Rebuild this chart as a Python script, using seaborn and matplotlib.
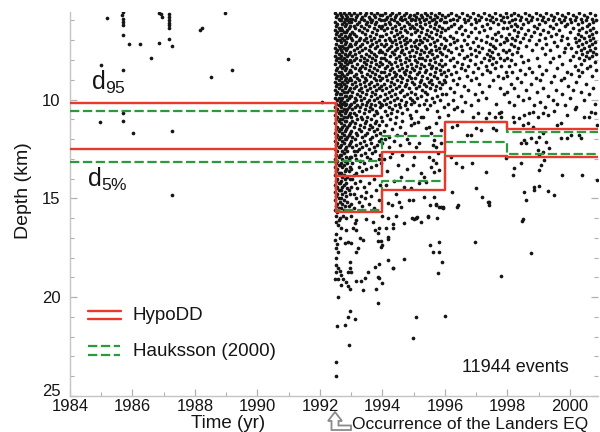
import matplotlib
matplotlib.use("Agg")
import matplotlib.pyplot as plt
import pandas as pd
import seaborn as sns
from matplotlib.lines import Line2D
from matplotlib.patches import Polygon
from matplotlib.transforms import IdentityTransform, ScaledTranslation
from matplotlib.ticker import MultipleLocator

# ---------------- data ----------------
x_ticks = [1984, 1986, 1988, 1990, 1992, 1994, 1996, 1998, 2000]
y_ticks = [10, 15, 20, 25]

# step boundaries (years) and depth percentiles (km)
step_edges = [1984, 1992.5, 1994, 1996, 1998, 2001]
hypodd_d95 = [10.15, 13.85, 12.65, 11.13, 11.50]
hypodd_d5 = [12.48, 15.70, 14.60, 12.87, 12.90]
hauk_d95 = [10.57, 13.12, 11.85, 11.15, 11.66]
hauk_d5 = [13.18, 15.60, 14.10, 12.17, 12.77]

# pre-Landers events (time, depth)
pre_events = [(1984.97, 11.12), (1984.98, 8.25), (1985.17, 5.89), (1985.67, 5.73), (1985.70, 5.59),
              (1985.70, 5.93), (1985.70, 6.06), (1985.70, 6.23), (1985.70, 6.74), (1985.70, 8.52),
              (1985.70, 10.67), (1985.70, 11.09), (1985.88, 7.18), (1986.01, 11.71), (1986.24, 7.18),
              (1986.59, 7.89), (1986.84, 5.62), (1986.90, 5.69), (1986.93, 5.84), (1986.84, 7.14),
              (1987.16, 5.67), (1987.16, 5.82), (1987.16, 5.97), (1987.16, 6.13), (1987.16, 6.23),
              (1987.16, 6.38), (1987.18, 6.94), (1987.26, 7.31), (1987.27, 11.59), (1987.27, 14.85),
              (1988.15, 6.48), (1988.23, 6.37), (1988.50, 8.86), (1988.95, 5.62), (1989.19, 8.51),
              (1990.97, 7.95), (1992.05, 10.11)]

# dense post-Landers columns: time -> depths
ev_landers = {
    1992.48: [5.6, 6.1, 6.5, 6.9, 7.4, 7.8, 8.2, 8.7, 9.1, 9.5, 9.9, 10.4, 10.8, 11.2, 11.7, 12.1, 12.5, 13.0, 13.4, 13.8, 14.3, 14.7, 15.1, 15.6],
    1992.52: [5.8, 6.3, 6.7, 7.2, 7.6, 8.0, 8.5, 8.9, 9.3, 9.7, 10.2, 10.6, 11.0, 11.5, 11.9, 12.3, 12.8, 13.2, 13.6, 14.1, 14.5, 14.9, 15.4, 15.9],
    1992.56: [5.7, 6.2, 6.6, 7.0, 7.5, 7.9, 8.4, 8.8, 9.2, 9.6, 10.0, 10.5, 10.9, 11.4, 11.8, 12.2, 12.6, 13.1, 13.5, 14.0, 14.4, 14.8, 15.3, 15.7],
    1992.60: [5.9, 6.4, 6.8, 7.3, 7.7, 8.1, 8.6, 9.0, 9.4, 9.9, 10.3, 10.7, 11.1, 11.6, 12.0, 12.4, 12.9, 13.3, 13.7, 14.2, 14.6, 15.0, 15.5],
    1992.64: [5.6, 6.0, 6.5, 7.0, 7.4, 7.9, 8.3, 8.8, 9.2, 9.7, 10.1, 10.6, 11.0, 11.5, 11.9, 12.4, 12.8, 13.3, 13.7, 14.2, 14.6, 15.2],
}
ev_1992 = {
    1992.68: [5.7, 6.0, 6.4, 6.7, 7.1, 7.5, 7.8, 8.2, 8.6, 8.9, 9.3, 9.7, 10.0, 10.4, 10.8, 11.2, 11.5, 11.9, 12.3, 12.8, 13.2, 13.7, 14.1, 14.6, 15.0, 15.5],
    1992.72: [5.8, 6.2, 6.5, 6.9, 7.3, 7.6, 8.0, 8.4, 8.7, 9.1, 9.5, 9.9, 10.2, 10.6, 11.0, 11.4, 11.7, 12.1, 12.6, 13.0, 13.4, 13.9, 14.4, 14.8, 15.3],
    1992.76: [5.6, 6.1, 6.6, 7.0, 7.4, 7.9, 8.3, 8.8, 9.2, 9.6, 10.1, 10.5, 10.9, 11.3, 11.8, 12.2, 12.7, 13.3, 13.8, 14.3, 15.1, 15.6],
    1992.80: [5.9, 6.3, 6.8, 7.2, 7.7, 8.1, 8.5, 9.0, 9.4, 9.8, 10.3, 10.7, 11.1, 11.6, 12.0, 12.5, 13.1, 13.6, 14.0, 14.7, 15.4],
    1992.84: [5.7, 6.2, 6.6, 7.1, 7.5, 8.0, 8.4, 8.9, 9.3, 9.8, 10.2, 10.6, 11.1, 11.5, 12.0, 12.4, 12.9, 13.5, 14.2, 14.9],
    1992.88: [5.8, 6.0, 6.5, 6.9, 7.4, 7.8, 8.2, 8.7, 9.1, 9.6, 10.0, 10.5, 10.9, 11.4, 11.9, 12.6, 13.2, 13.9, 14.5, 15.2],
    1992.92: [5.6, 6.1, 6.4, 6.8, 7.3, 7.7, 8.1, 8.6, 9.0, 9.5, 9.9, 10.4, 10.8, 11.3, 11.8, 12.3, 13.0, 13.6, 14.6, 15.4],
    1992.96: [5.9, 6.3, 6.7, 7.2, 7.6, 8.0, 8.5, 8.9, 9.4, 9.8, 10.3, 10.7, 11.2, 11.7, 12.2, 12.9, 13.4, 14.0, 14.8],
}
ev_1993 = {
    1993.00: [5.7, 6.1, 6.9, 7.3, 8.1, 8.6, 9.0, 9.8, 10.2, 10.9, 11.6, 12.1, 12.9, 13.5, 14.4, 15.3],
    1993.04: [5.9, 6.6, 7.0, 7.8, 8.3, 9.2, 9.6, 10.5, 11.1, 11.9, 12.4, 13.2, 14.0],
    1993.08: [5.6, 6.3, 6.7, 7.5, 8.0, 8.8, 9.4, 10.1, 10.7, 11.4, 12.6, 13.8, 14.8, 15.5],
    1993.12: [6.0, 6.4, 7.2, 7.7, 8.4, 9.1, 9.9, 10.4, 11.2, 12.0, 12.8, 14.2],
    1993.16: [5.8, 6.8, 7.1, 7.9, 8.7, 9.3, 10.0, 10.8, 11.7, 12.3, 13.0, 13.7, 15.0],
    1993.20: [5.7, 6.2, 7.4, 8.2, 8.9, 9.7, 10.3, 11.0, 11.8, 12.6, 14.5],
    1993.24: [6.1, 6.5, 7.0, 7.6, 8.5, 9.0, 9.5, 10.6, 11.5, 12.5, 13.4, 15.2],
    1993.28: [5.6, 6.9, 7.3, 8.0, 8.4, 9.2, 9.8, 10.4, 11.3, 12.2, 13.1, 14.1],
    1993.32: [5.9, 6.3, 7.8, 8.6, 9.4, 10.0, 10.9, 11.6, 12.8, 14.9],
    1993.36: [5.8, 6.6, 7.2, 7.5, 8.3, 8.8, 9.6, 10.2, 11.0, 11.9, 12.4, 13.6, 15.4],
    1993.40: [6.0, 6.4, 7.0, 7.9, 8.1, 9.1, 9.9, 10.7, 11.4, 12.1, 13.2, 14.4],
    1993.44: [5.7, 6.7, 7.4, 8.4, 8.9, 9.3, 10.5, 11.2, 11.8, 12.7, 15.0],
    1993.48: [5.6, 6.2, 6.9, 7.7, 8.2, 9.0, 9.7, 10.3, 11.1, 12.3, 13.5, 14.7],
    1993.52: [6.1, 6.5, 7.1, 8.0, 8.7, 9.5, 10.1, 10.9, 11.7, 12.9],
    1993.56: [5.8, 6.3, 7.5, 7.8, 8.5, 9.2, 10.0, 10.6, 11.5, 12.5, 14.2, 15.3],
    1993.60: [5.9, 6.8, 7.3, 8.3, 8.8, 9.4, 10.4, 11.3, 12.0, 13.0],
    1993.64: [5.6, 6.1, 7.0, 7.6, 8.1, 9.1, 9.8, 10.2, 11.0, 12.2, 13.4, 14.9],
    1993.68: [6.0, 6.6, 7.2, 7.9, 8.6, 9.6, 10.5, 11.4, 11.9, 12.7],
    1993.72: [5.7, 6.4, 6.9, 7.7, 8.4, 8.9, 9.3, 10.0, 10.8, 11.6, 12.4, 14.0, 15.5],
    1993.76: [5.8, 6.2, 7.4, 8.0, 8.7, 9.7, 10.3, 11.2, 12.6],
    1993.80: [6.1, 6.7, 7.1, 7.8, 8.2, 9.0, 9.5, 10.6, 11.1, 11.8, 13.3, 14.6],
    1993.84: [5.6, 6.5, 7.3, 8.5, 9.2, 9.9, 10.7, 11.5, 12.3],
    1993.88: [5.9, 6.3, 7.0, 7.6, 8.3, 8.8, 9.4, 10.1, 11.3, 12.1, 13.0, 15.1],
    1993.92: [5.7, 6.8, 7.5, 8.1, 9.0, 9.8, 10.4, 11.7, 12.8, 14.3],
    1993.96: [6.0, 6.4, 7.2, 7.9, 8.6, 9.3, 10.2, 10.9, 12.0, 13.2],
}
ev_1994 = {
    1994.00: [5.7, 6.3, 6.8, 7.6, 8.2, 8.9, 9.5, 10.3, 11.1, 12.2],
    1994.04: [6.0, 6.5, 7.3, 7.9, 8.6, 9.2, 10.0, 11.6],
    1994.08: [5.6, 6.2, 7.0, 7.7, 8.4, 9.7, 10.6, 12.0],
    1994.12: [5.9, 6.7, 7.2, 8.0, 8.8, 9.4, 10.2, 11.3],
    1994.16: [5.8, 6.4, 7.5, 8.3, 9.0, 9.9, 10.8],
    1994.20: [6.1, 6.9, 7.4, 8.1, 8.7, 9.6, 10.4, 11.9, 12.4],
    1994.24: [5.7, 6.2, 7.0, 7.8, 8.5, 9.3, 10.1, 11.0],
    1994.28: [5.9, 6.6, 7.3, 8.2, 9.1, 9.8, 10.7],
    1994.32: [5.6, 6.4, 7.1, 7.6, 8.4, 8.9, 9.5, 10.5, 11.5],
    1994.36: [6.0, 6.8, 7.7, 8.6, 9.2, 10.0, 12.1],
    1994.40: [5.8, 6.3, 7.0, 7.5, 8.1, 8.8, 9.7, 10.3, 11.2],
    1994.44: [5.7, 6.5, 7.2, 7.9, 8.7, 9.4, 10.9],
    1994.48: [6.1, 6.7, 7.4, 8.3, 9.0, 9.9, 10.6, 11.8],
    1994.52: [5.6, 6.2, 6.9, 7.8, 8.5, 9.3, 10.2],
    1994.56: [5.9, 6.6, 7.1, 8.0, 8.8, 9.6, 10.4, 11.4, 12.3],
    1994.60: [5.8, 6.4, 7.3, 7.6, 8.2, 9.1, 10.0],
    1994.64: [6.0, 6.8, 7.5, 8.4, 8.9, 9.5, 10.7, 11.1],
    1994.68: [5.7, 6.3, 7.0, 7.7, 8.6, 9.8],
    1994.72: [5.9, 6.5, 7.2, 8.1, 8.7, 9.3, 10.3, 11.7],
    1994.76: [5.6, 6.9, 7.4, 7.9, 8.5, 9.2, 10.1],
    1994.80: [6.1, 6.6, 7.1, 8.3, 9.0, 9.7, 10.5, 12.0],
    1994.84: [5.8, 6.2, 7.6, 8.0, 8.8, 9.4],
    1994.88: [5.7, 6.4, 7.0, 7.8, 8.6, 9.9, 10.8],
    1994.92: [6.0, 6.7, 7.3, 8.2, 8.9, 9.6, 10.2, 11.3],
    1994.96: [5.9, 6.3, 7.5, 8.4, 9.1, 10.0],
}
ev_1995 = {
    1995.00: [5.7, 6.4, 7.1, 7.8, 8.5, 9.2, 10.1],
    1995.04: [6.0, 6.6, 7.3, 8.0, 8.9, 9.7],
    1995.08: [5.8, 6.2, 7.0, 7.6, 8.3, 9.4, 10.6],
    1995.12: [5.6, 6.5, 7.4, 8.1, 8.7, 9.9],
    1995.16: [5.9, 6.8, 7.2, 7.9, 8.6, 9.3, 10.3],
    1995.20: [6.1, 6.3, 7.0, 7.7, 8.4, 9.1],
    1995.24: [5.7, 6.6, 7.5, 8.2, 9.0, 9.8, 10.9],
    1995.28: [5.8, 6.4, 7.1, 7.9, 8.8, 9.5],
    1995.32: [6.0, 6.9, 7.6, 8.3, 9.2, 10.2],
    1995.36: [5.6, 6.2, 7.3, 8.0, 8.6, 9.6],
    1995.40: [5.9, 6.7, 7.4, 8.5, 9.3, 10.0],
    1995.44: [5.7, 6.5, 7.0, 7.8, 8.9, 9.7, 10.5],
    1995.48: [6.1, 6.8, 7.6, 8.2, 9.1],
    1995.52: [5.8, 6.3, 7.2, 8.0, 8.7, 9.4, 10.3],
    1995.56: [5.6, 6.6, 7.5, 8.4, 9.0],
    1995.60: [6.0, 6.9, 7.7, 8.3, 9.2, 9.9],
    1995.64: [5.9, 6.4, 7.1, 7.9, 8.8, 10.1],
    1995.68: [5.7, 6.2, 7.3, 8.1, 8.6, 9.5],
    1995.72: [6.1, 6.7, 7.5, 8.4, 9.3],
    1995.76: [5.8, 6.5, 7.0, 7.8, 8.9, 9.8, 10.6],
    1995.80: [5.6, 6.3, 7.4, 8.2, 9.1],
    1995.84: [6.0, 6.8, 7.6, 8.5, 9.4, 10.0],
    1995.88: [5.9, 6.6, 7.2, 8.0, 8.7],
    1995.92: [5.7, 6.4, 7.7, 8.3, 9.2, 9.7],
    1995.96: [6.1, 6.9, 7.4, 8.6, 9.0, 10.4],
}
ev_1996 = {
    1996.00: [5.8, 6.5, 7.3, 8.2, 9.1], 1996.05: [6.1, 7.0, 7.8, 8.8, 9.7],
    1996.10: [5.7, 6.4, 7.5, 8.5, 10.2], 1996.15: [6.0, 6.8, 7.2, 8.0, 9.4],
    1996.20: [5.6, 6.3, 7.6, 8.7], 1996.25: [5.9, 6.9, 7.9, 9.0, 10.0],
    1996.30: [6.2, 7.1, 8.3, 9.6], 1996.35: [5.7, 6.6, 7.4, 8.6],
    1996.40: [6.0, 7.0, 8.1, 9.2, 10.4], 1996.45: [5.8, 6.4, 7.7, 8.9],
    1996.50: [6.3, 7.3, 8.4, 9.8], 1996.55: [5.6, 6.7, 7.5, 8.2],
    1996.60: [5.9, 7.0, 7.9, 9.3], 1996.65: [6.1, 6.5, 8.5, 10.1],
    1996.70: [5.7, 7.2, 7.8, 8.8], 1996.75: [6.0, 6.8, 8.3, 9.5],
    1996.80: [5.8, 7.4, 8.0], 1996.85: [6.2, 6.6, 7.7, 9.0, 10.3],
    1996.90: [5.6, 7.1, 8.6], 1996.95: [5.9, 6.4, 7.5, 8.2, 9.7],
}
ev_1997 = {
    1997.00: [6.1, 6.9, 7.8, 8.9], 1997.05: [5.7, 7.3, 8.4, 10.0],
    1997.10: [6.0, 6.6, 7.6, 9.2], 1997.15: [5.8, 7.0, 8.1],
    1997.20: [6.3, 7.4, 8.7, 9.6], 1997.25: [5.6, 6.5, 7.9],
    1997.30: [5.9, 7.1, 8.3, 9.9], 1997.35: [6.2, 6.8, 7.7, 8.5],
    1997.40: [5.7, 7.5, 8.0, 9.3], 1997.45: [6.0, 6.4, 7.2, 7.8, 8.6],
    1997.50: [5.8, 6.9, 7.6, 8.2], 1997.55: [6.1, 7.3, 7.9, 9.0],
    1997.60: [5.6, 6.7, 7.4, 8.4], 1997.65: [5.9, 7.0, 8.1, 10.2],
    1997.70: [6.2, 6.6, 7.7, 8.8], 1997.75: [5.7, 7.2, 7.9, 9.4],
    1997.80: [6.0, 6.8, 8.3], 1997.85: [5.8, 6.4, 7.5, 8.9],
    1997.90: [6.1, 7.1, 8.0, 9.7], 1997.95: [5.6, 6.9, 7.6, 8.6],
}
ev_1998 = {
    1998.00: [5.8, 6.4, 7.0, 7.9, 8.8, 9.6], 1998.05: [6.1, 6.7, 7.5, 8.3, 10.1],
    1998.10: [5.7, 6.3, 7.2, 8.0, 9.2], 1998.15: [6.0, 6.9, 7.7, 8.6],
    1998.20: [5.6, 6.5, 7.3, 9.4, 10.3], 1998.25: [5.9, 6.2, 7.0, 8.2],
    1998.30: [6.3, 6.8, 7.6, 8.9], 1998.35: [5.7, 6.6, 7.4, 9.8],
    1998.40: [6.0, 7.1, 8.5], 1998.45: [5.8, 6.4, 7.8, 9.1],
    1998.50: [6.2, 6.9, 8.1, 10.0], 1998.55: [5.6, 6.7, 8.7],
    1998.60: [5.9, 7.3, 9.5], 1998.65: [6.1, 6.5, 8.0],
    1998.70: [5.7, 7.0, 8.4, 9.9], 1998.75: [6.0, 6.8, 9.2],
    1998.80: [5.8, 7.5, 8.6], 1998.85: [6.3, 6.6, 10.3],
    1998.90: [5.6, 7.2, 8.9], 1998.95: [5.9, 6.4, 7.9, 9.6],
}
ev_1999 = {
    1999.00: [6.2, 7.0, 8.3], 1999.05: [5.7, 6.7, 9.0, 10.1],
    1999.10: [6.0, 7.4, 8.7], 1999.15: [5.8, 6.5, 9.4],
    1999.20: [6.1, 6.9, 7.7, 10.4], 1999.25: [5.6, 7.2, 8.5],
    1999.30: [5.9, 6.6, 9.8], 1999.35: [6.3, 7.5, 8.1],
    1999.40: [5.7, 6.8, 9.1], 1999.45: [6.0, 6.4, 7.9, 10.0],
    1999.50: [5.8, 7.1, 8.8], 1999.55: [6.2, 6.7, 9.5],
    1999.60: [5.6, 7.3, 8.4, 10.2], 1999.65: [5.9, 6.5, 7.8],
    1999.70: [6.1, 7.0, 9.0], 1999.75: [5.7, 6.8, 8.2, 9.7],
    1999.80: [6.0, 7.6, 8.9], 1999.85: [5.8, 6.3, 7.4, 10.3],
    1999.90: [6.2, 6.9, 8.6], 1999.95: [5.6, 7.2, 9.3],
}
ev_2000 = {
    2000.00: [5.9, 6.6, 8.0, 9.9], 2000.05: [6.1, 7.4, 8.7],
    2000.10: [5.7, 6.4, 7.8, 9.5], 2000.15: [6.0, 6.9, 8.3],
    2000.20: [5.8, 7.1, 7.6, 9.1, 10.4], 2000.25: [6.2, 6.7, 7.3, 8.5],
    2000.30: [5.6, 6.5, 7.0, 7.9, 8.8], 2000.35: [5.9, 6.8, 7.5, 8.2, 9.6],
    2000.40: [6.1, 6.4, 7.2, 7.7, 8.6], 2000.45: [5.7, 6.9, 7.4, 8.0, 10.0],
    2000.50: [6.0, 6.6, 7.1, 7.8, 9.2], 2000.55: [5.8, 6.3, 7.6, 8.4],
    2000.60: [6.2, 6.8, 7.3, 7.9, 9.7], 2000.65: [5.6, 6.5, 7.0, 7.5, 8.3],
    2000.70: [5.9, 6.7, 7.2, 7.8, 8.8], 2000.75: [6.1, 6.4, 6.9, 7.6, 9.4],
    2000.80: [5.7, 7.1, 7.4, 8.1, 10.2], 2000.85: [6.0, 6.6, 7.7, 8.5],
}

# scattered mid-depth events after 1994 (time, depth)
mid_events = [(1994.05, 13.0), (1994.15, 13.6), (1994.25, 12.9), (1994.38, 14.1), (1994.50, 13.3),
              (1994.62, 12.8), (1994.70, 14.4), (1994.78, 13.5), (1994.10, 14.3), (1994.45, 14.8),
              (1994.30, 12.7), (1994.58, 13.9), (1994.17, 15.25), (1994.31, 15.34), (1994.54, 15.17),
              (1994.60, 15.42), (1994.86, 15.08), (1995.52, 15.34), (1995.71, 15.29), (1995.82, 15.45),
              (1995.93, 15.45), (1996.41, 15.34), (1997.42, 15.17), (1997.42, 15.34),
              (1994.91, 10.95), (1995.02, 11.21), (1995.13, 11.12), (1995.29, 10.87), (1995.39, 11.46),
              (1995.50, 11.37), (1995.55, 11.71), (1995.66, 12.05), (1995.61, 12.30), (1995.71, 12.38),
              (1995.77, 12.72), (1995.50, 12.89), (1995.61, 13.06), (1995.71, 13.23), (1995.55, 13.40),
              (1995.66, 13.65), (1995.82, 13.57), (1995.23, 13.74), (1995.34, 13.91), (1995.39, 14.16),
              (1995.18, 14.24), (1994.91, 14.49), (1994.97, 13.31), (1995.02, 12.89), (1994.86, 12.22),
              (1995.07, 12.38), (1995.18, 12.22), (1995.82, 10.87), (1995.71, 11.21), (1995.87, 11.54),
              (1995.87, 12.22), (1994.97, 15.08), (1995.34, 14.92), (1995.45, 15.93), (1995.66, 14.92),
              (1995.71, 15.34), (1995.87, 15.42), (1995.93, 15.51), (1995.07, 16.0),
              (1996.24, 11.37), (1996.40, 11.29), (1996.72, 11.80), (1996.83, 11.80), (1996.99, 11.46),
              (1997.15, 11.54), (1997.31, 10.95), (1997.42, 10.70), (1997.53, 11.46), (1997.63, 11.54),
              (1997.74, 10.70), (1996.19, 12.89), (1996.35, 13.23), (1996.56, 13.40), (1996.88, 13.23),
              (1997.31, 13.65), (1996.99, 14.49), (1997.20, 14.92), (1997.37, 15.17), (1996.24, 14.66),
              (1996.40, 15.42), (1996.10, 10.8), (1996.55, 10.6), (1996.90, 10.9), (1997.05, 10.7),
              (1997.60, 10.9), (1996.30, 10.5),
              (1997.79, 10.61), (1997.79, 10.87), (1998.17, 10.87), (1998.22, 11.12), (1998.38, 10.95),
              (1998.54, 10.78), (1998.70, 10.70), (1998.81, 10.61), (1998.97, 10.87), (1999.13, 10.70),
              (1999.29, 10.78), (1998.49, 11.29), (1998.65, 11.21), (1998.81, 11.37), (1998.43, 12.22),
              (1998.54, 12.05), (1998.59, 12.22), (1998.75, 11.96), (1998.91, 12.13), (1999.02, 11.88),
              (1999.13, 11.71), (1999.23, 12.13), (1999.34, 12.47), (1998.97, 12.55), (1999.13, 12.64),
              (1999.02, 12.81), (1999.60, 11.29), (1999.71, 11.21), (1999.71, 11.96), (1999.92, 11.96),
              (2000.03, 11.80), (2000.29, 11.80), (2000.34, 11.96), (2000.61, 10.87), (2000.66, 10.61),
              (2000.87, 11.29), (1997.95, 12.98), (1998.43, 13.23), (1998.22, 13.48), (1998.17, 13.82),
              (1999.02, 13.57), (1999.07, 13.31), (1999.18, 13.06), (1999.76, 13.82), (2000.39, 13.82),
              (1998.54, 14.66), (1998.59, 15.08), (1998.86, 14.41), (1998.86, 14.58), (1999.02, 14.37),
              (1999.29, 14.61), (1999.50, 14.83), (2000.88, 14.07), (1998.49, 16.02),
              (1999.50, 10.6), (1999.90, 10.8), (2000.15, 10.5), (2000.45, 10.9), (2000.80, 10.7)]

# deep scattered events (time, depth)
deep_events = [(1992.63, 15.97), (1992.73, 15.87), (1992.84, 16.0), (1993.0, 15.9), (1993.16, 16.1),
               (1993.48, 16.04), (1993.69, 16.2), (1994.0, 15.9), (1994.17, 15.97), (1994.33, 16.3),
               (1994.33, 16.5), (1994.70, 16.27), (1994.96, 16.0), (1995.09, 16.0), (1995.23, 16.2),
               (1992.57, 16.35), (1992.68, 16.52), (1992.84, 16.6), (1993.06, 16.52), (1993.11, 16.27),
               (1993.16, 16.6), (1993.27, 17.02), (1993.37, 17.1), (1993.75, 16.6), (1993.86, 16.77),
               (1993.90, 16.52), (1994.12, 16.5), (1994.17, 16.94), (1994.17, 17.05), (1993.86, 17.15),
               (1993.96, 17.15), (1994.0, 17.36), (1993.96, 17.44), (1992.63, 17.02), (1992.79, 17.27),
               (1992.90, 17.19), (1993.0, 17.27), (1993.16, 17.7), (1993.22, 17.53), (1992.50, 17.5),
               (1992.57, 17.7), (1992.52, 18.04), (1992.52, 18.37), (1992.57, 18.54), (1992.50, 18.74),
               (1992.63, 18.68), (1992.95, 18.2), (1992.95, 18.54), (1992.90, 18.74), (1993.0, 18.74),
               (1993.53, 18.74), (1993.75, 18.45), (1993.88, 18.33), (1994.19, 18.1), (1994.33, 18.5),
               (1994.70, 18.07), (1992.47, 19.1), (1992.57, 19.1), (1992.68, 18.88), (1992.73, 19.08),
               (1992.68, 19.39), (1992.84, 19.22), (1992.90, 19.42), (1992.95, 19.6), (1993.16, 19.17),
               (1993.32, 19.17), (1993.43, 19.05), (1993.37, 19.64), (1993.86, 18.96), (1993.90, 19.05),
               (1994.0, 19.27), (1993.80, 19.6), (1993.86, 20.27), (1992.57, 20.0), (1992.95, 20.7),
               (1992.90, 21.0), (1993.13, 21.1), (1992.79, 21.4), (1992.54, 21.46), (1995.08, 20.99),
               (1992.93, 22.4), (1994.99, 22.05), (1992.50, 23.3), (1992.52, 24.0),
               (1992.50, 16.2), (1992.53, 16.8), (1992.49, 17.1), (1992.60, 16.1), (1992.55, 17.3),
               (1995.10, 15.93), (1995.02, 16.04), (1995.47, 15.88), (1995.75, 16.01), (1995.52, 17.36),
               (1995.63, 17.70), (1995.80, 17.70), (1995.82, 17.19), (1995.90, 18.20), (1995.77, 18.76),
               (1996.97, 17.19), (1997.79, 18.91), (1998.46, 16.13), (1998.77, 17.78), (1996.0, 20.94),
               (1994.44, 15.89), (1994.33, 18.54)]

# ---------------- build table ----------------
rows = list(pre_events)
for block in (ev_landers, ev_1992, ev_1993, ev_1994, ev_1995, ev_1996, ev_1997, ev_1998, ev_1999, ev_2000):
    for t, depths in block.items():
        rows.extend((t, z) for z in depths)
rows += mid_events + deep_events
df = pd.DataFrame(rows, columns=["time", "depth"])

# ---------------- style ----------------
sns.set_theme(style="ticks")
plt.rcParams["font.family"] = ["Liberation Sans", "DejaVu Sans"]
plt.rcParams["mathtext.fontset"] = "custom"
plt.rcParams["mathtext.rm"] = "Liberation Sans"
plt.rcParams["mathtext.it"] = "Liberation Sans"

W, H = 600, 432
fig = plt.figure(figsize=(6, 4.32), dpi=100)
fig.patch.set_facecolor("white")
ax = fig.add_axes([70 / W, 36 / H, 528 / W, 384 / H])

sns.scatterplot(data=df, x="time", y="depth", s=7, color="#151515",
                linewidth=0, legend=False, ax=ax, zorder=2)

RED = "#e8392c"
GREEN = "#2a9a3c"


def stepvals(v):
    return list(v) + [v[-1]]


for vals in (hauk_d95, hauk_d5):
    ax.step(step_edges, stepvals(vals), where="post", color=GREEN, lw=1.6,
            dashes=(4.2, 1.6), zorder=3)
for vals in (hypodd_d95, hypodd_d5):
    ax.step(step_edges, stepvals(vals), where="post", color=RED, lw=1.7, zorder=4)

ax.set_xlim(1984, 2000.9)
ax.set_ylim(25, 5.57)
ax.set_xticks(x_ticks)
ax.set_yticks(y_ticks)
ax.xaxis.set_minor_locator(MultipleLocator(1))
ax.yaxis.set_minor_locator(MultipleLocator(1))

for side in ("top", "right"):
    ax.spines[side].set_visible(False)
for side in ("left", "bottom"):
    ax.spines[side].set_color("#c4c4c4")
    ax.spines[side].set_linewidth(1.0)

ax.tick_params(which="both", direction="in", color="#b0b0b0", right=True, labelright=False)
ax.tick_params(which="major", length=5, width=0.9, labelsize=12, labelcolor="#151515")
ax.tick_params(which="minor", length=3, width=0.8)
ax.tick_params(axis="x", pad=2)
ax.tick_params(axis="y", pad=7)

# lift the bottom depth label a little so it clears the first year label
fig.canvas.draw()
ylabels = ax.get_yticklabels()
ylabels[-1].set_transform(ylabels[-1].get_transform()
                          + ScaledTranslation(0, 4 / 72, fig.dpi_scale_trans))

ax.set_xlabel("Time (yr)", fontsize=13.5, color="#151515")
ax.xaxis.set_label_coords((228 - 70) / 528, (396 - 424) / 384)
ax.xaxis.label.set_va("center")
ax.set_ylabel("Depth (km)", fontsize=14, color="#151515")
ax.yaxis.set_label_coords((24 - 70) / 528, (396 - 191) / 384)
ax.yaxis.label.set_va("center")


def fx(x):
    return x / W


def fy(y):
    return 1 - y / H


# annotations
fig.text(fx(91), fy(90), r"d$_{95}$", fontsize=18, ha="left", va="baseline", color="#151515")
fig.text(fx(87), fy(187), r"d$_{5\%}$", fontsize=18, ha="left", va="baseline", color="#151515")
fig.text(fx(462), fy(368), "11944 events", fontsize=13, ha="left", va="center", color="#151515")
fig.text(fx(352), fy(425), "Occurrence of the Landers EQ", fontsize=12.5, ha="left",
         va="center", color="#151515")

# legend drawn as double lines
for yy in (311, 319):
    fig.add_artist(Line2D([fx(88), fx(121)], [fy(yy), fy(yy)], color=RED, lw=1.7,
                          transform=fig.transFigure))
for yy in (346, 355):
    fig.add_artist(Line2D([fx(88), fx(120)], [fy(yy), fy(yy)], color=GREEN, lw=1.6,
                          dashes=(4.2, 1.6), transform=fig.transFigure))
fig.text(fx(132), fy(315), "HypoDD", fontsize=13.5, ha="left", va="center", color="#151515")
fig.text(fx(133), fy(351), "Hauksson (2000)", fontsize=13.5, ha="left", va="center", color="#151515")

# hollow bent arrow marking the main shock
arrow_px = [(335, 412), (342, 421), (338.5, 421), (338.5, 425.5), (351, 425.5), (351, 430),
            (331.5, 430), (331.5, 421), (328, 421)]
arrow = Polygon([(x, H - y) for x, y in arrow_px], closed=True, facecolor="white",
                edgecolor="#8a8a8a", lw=1.3, transform=IdentityTransform())
fig.add_artist(arrow)

fig.savefig("out.png", dpi=100, facecolor="white")
